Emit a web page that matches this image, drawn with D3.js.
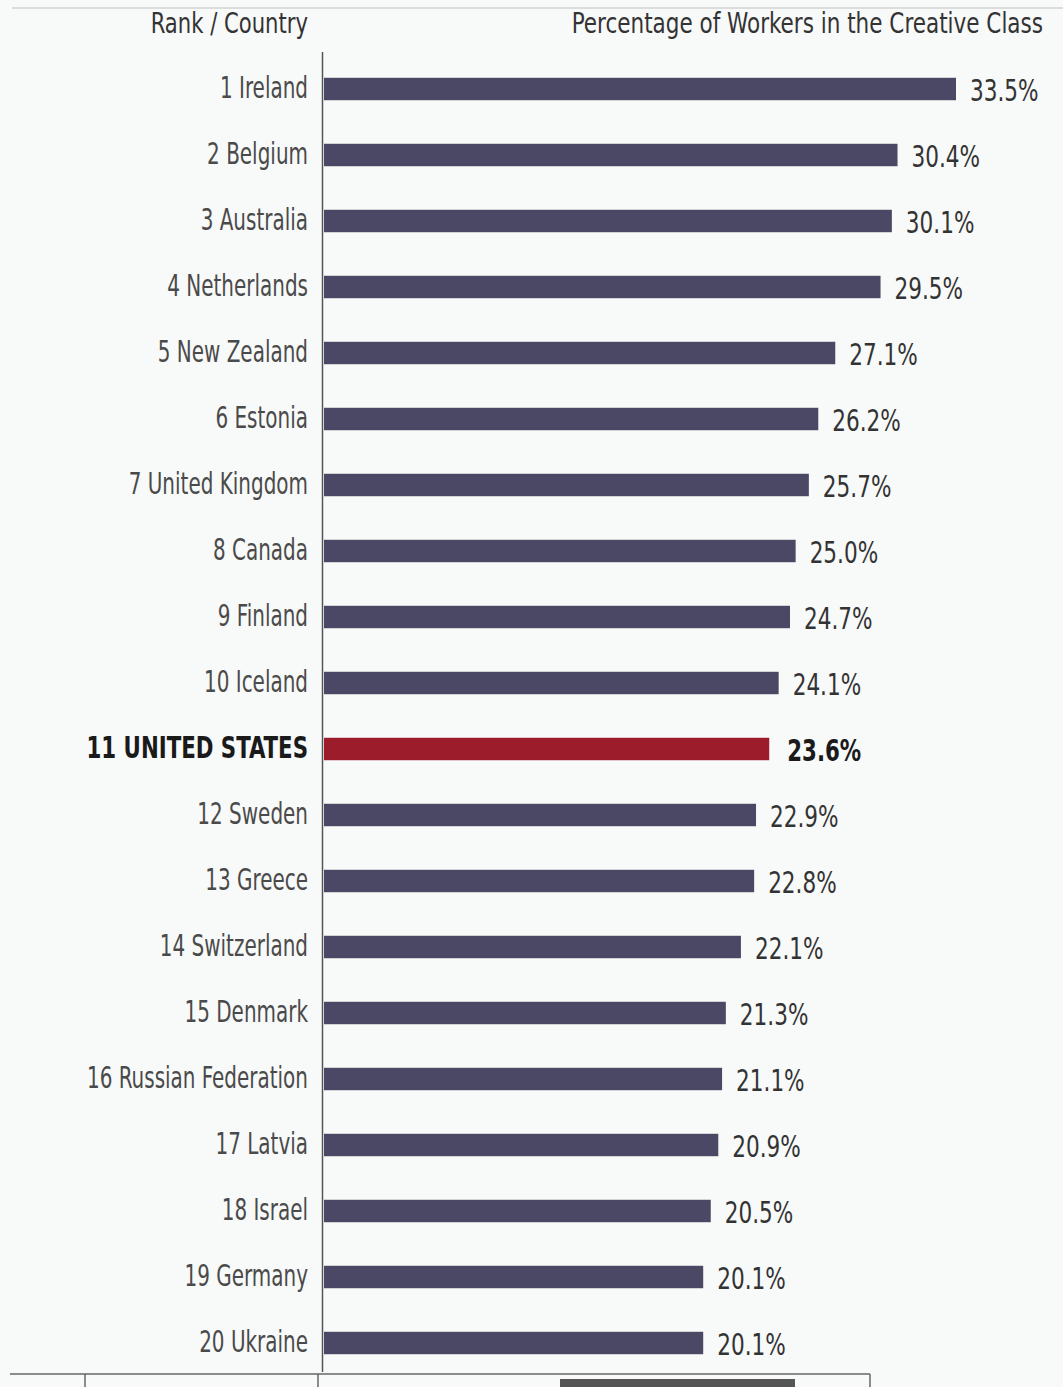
<!DOCTYPE html>
<html><head><meta charset="utf-8">
<script src="https://cdn.jsdelivr.net/npm/d3@7"></script>
<style>
html,body{margin:0;padding:0;background:#f8f9f9;}
svg{display:block;}
</style></head>
<body>
<script>
const countries = ["Ireland","Belgium","Australia","Netherlands","New Zealand","Estonia","United Kingdom","Canada","Finland","Iceland","UNITED STATES","Sweden","Greece","Switzerland","Denmark","Russian Federation","Latvia","Israel","Germany","Ukraine"];
const ranks = [1,2,3,4,5,6,7,8,9,10,11,12,13,14,15,16,17,18,19,20];
const values = [33.5,30.4,30.1,29.5,27.1,26.2,25.7,25.0,24.7,24.1,23.6,22.9,22.8,22.1,21.3,21.1,20.9,20.5,20.1,20.1];
const highlight = "UNITED STATES";
const titleLeft = "Rank / Country";
const titleRight = "Percentage of Workers in the Creative Class";

const W = 1063, H = 1387;
const svg = d3.select("body").append("svg").attr("width", W).attr("height", H);
const font = "'DejaVu Sans Condensed','DejaVu Sans',sans-serif";

const x = d3.scaleLinear().domain([0, 33.5]).range([324, 956]);
const y = d3.scaleBand().domain(countries).range([56, 1376]).paddingInner(0.66).paddingOuter(0.33);

// top scan border
svg.append("line").attr("x1",12).attr("x2",W).attr("y1",8).attr("y2",8).attr("stroke","#dcdcdc").attr("stroke-width",2);

// headers
svg.append("text").attr("transform","translate(308,33) scale(0.84,1)").attr("text-anchor","end")
  .attr("font-family",font).attr("font-size",28).attr("fill","#333").text(titleLeft);
svg.append("text").attr("transform","translate(1043,33) scale(0.855,1)").attr("text-anchor","end")
  .attr("font-family",font).attr("font-size",28).attr("fill","#333").text(titleRight);

// axis line
svg.append("line").attr("x1",322.5).attr("x2",322.5).attr("y1",52).attr("y2",1372).attr("stroke","#555").attr("stroke-width",1.5);

// bars
svg.selectAll("rect.bar").data(countries).join("rect").attr("class","bar")
  .attr("x", x(0)).attr("y", d => y(d))
  .attr("width", (d,i) => x(values[i]) - x(0))
  .attr("height", y.bandwidth())
  .attr("fill", d => d === highlight ? "#9c1c2b" : "#4b4865");

// category labels
svg.selectAll("text.cat").data(countries).join("text").attr("class","cat")
  .attr("transform", d => `translate(308,${y(d) + y.bandwidth()/2 + 9}) scale(${d === highlight ? 0.79 : 0.74},1)`)
  .attr("text-anchor","end").attr("font-family",font)
  .attr("font-size",30)
  .attr("font-weight", d => d === highlight ? "bold" : "normal")
  .attr("fill", d => d === highlight ? "#1a1a1a" : "#4a4a4a")
  .text((d,i) => ranks[i] + " " + d);

// value labels
svg.selectAll("text.val").data(countries).join("text").attr("class","val")
  .attr("transform", (d,i) => `translate(${x(values[i]) + (d === highlight ? 18 : 14)},${y(d) + y.bandwidth()/2 + 12}) scale(${d === highlight ? 0.79 : 0.8},1)`)
  .attr("font-family",font).attr("font-size",30)
  .attr("font-weight", d => d === highlight ? "bold" : "normal")
  .attr("fill", d => d === highlight ? "#1a1a1a" : "#333")
  .text((d,i) => values[i].toFixed(1) + "%");

// bottom scan artifacts
svg.append("line").attr("x1",10).attr("x2",870).attr("y1",1374).attr("y2",1374).attr("stroke","#666").attr("stroke-width",1.5);
[85,318,870].forEach(px => svg.append("line").attr("x1",px).attr("x2",px).attr("y1",1374).attr("y2",1387).attr("stroke","#666").attr("stroke-width",1.5));
svg.append("rect").attr("x",560).attr("y",1379).attr("width",235).attr("height",8).attr("fill","#555");
</script>
</body></html>
